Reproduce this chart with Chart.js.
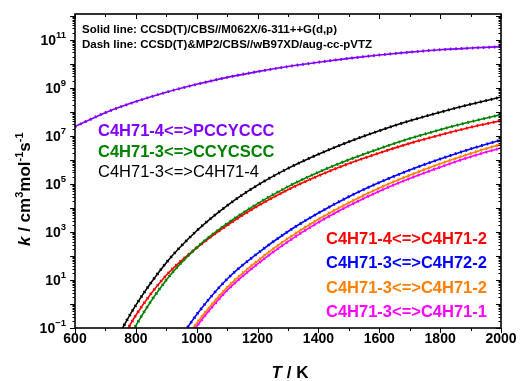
<!DOCTYPE html>
<html><head><meta charset="utf-8">
<script src="https://cdn.jsdelivr.net/npm/chart.js@4.4.1/dist/chart.umd.min.js"></script>
<style>html,body{margin:0;padding:0;background:#fff}canvas{display:block}</style>
</head><body>
<canvas id="c" width="520" height="381"></canvas>
<script>
// Temperatures (K)
const temps = [600,700,800,900,1000,1100,1200,1300,1400,1500,1600,1700,1800,1900,2000];
// log10(k) values (null = outside range)
const logPurple  = [7.39,7.97,8.43,8.82,9.15,9.44,9.68,9.89,10.07,10.23,10.37,10.49,10.59,10.66,10.72];
const logBlack   = [null,-2.30,-0.05,1.72,3.05,4.10,4.95,5.65,6.24,6.76,7.22,7.63,7.99,8.32,8.62];
const logGreen   = [null,-3.40,-0.90,1.00,2.35,3.35,4.18,4.89,5.49,6.01,6.47,6.89,7.26,7.59,7.89];
const logRed     = [null,-2.75,-0.47,1.20,2.34,3.28,4.08,4.76,5.34,5.85,6.29,6.69,7.04,7.36,7.64];
const logBlue    = [null,null,null,-2.31,-0.44,1.04,2.11,3.02,3.79,4.47,5.06,5.58,6.04,6.46,6.83];
const logOrange  = [null,null,null,-2.60,-0.80,0.69,1.80,2.73,3.53,4.22,4.83,5.36,5.84,6.27,6.65];
const logMagenta = [null,null,null,-2.75,-0.93,0.57,1.67,2.60,3.40,4.09,4.70,5.23,5.70,6.13,6.50];

const xTickLabels = ['600','800','1000','1200','1400','1600','1800','2000'];
const yLabelExps = [-1,1,3,5,7,9,11];

const seriesNames = ['C4H71-4<=>PCCYCCC','C4H71-3<=>CCYCSCC','C4H71-3<=>C4H71-4',
  'C4H71-4<=>C4H71-2','C4H71-3<=>C4H72-2','C4H71-3<=>C4H71-2','C4H71-3<=>C4H71-1'];
const seriesLogs = [logPurple,logGreen,logBlack,logRed,logBlue,logOrange,logMagenta];
const seriesColors = ['#8000ff','#008000','#000000','#ff0000','#0000ff','#ff8000','#ff00ff'];

function pts(arr){
  const out=[];
  arr.forEach((v,i)=>{ if(v!==null) out.push({x:temps[i], y:Math.pow(10,v)}); });
  return out;
}

const datasets=[];
seriesLogs.forEach((arr,i)=>{
  datasets.push({label:seriesNames[i], data:pts(arr), borderColor:seriesColors[i],
    borderWidth:1.6, pointRadius:0, cubicInterpolationMode:'monotone', fill:false});
});
seriesLogs.forEach((arr,i)=>{
  datasets.push({label:seriesNames[i]+' (dash)', data:pts(arr), borderColor:seriesColors[i],
    borderWidth:3, borderDash:[1.5,4], pointRadius:0, cubicInterpolationMode:'monotone', fill:false});
});

const FONT = 'Arial, "Liberation Sans", sans-serif';

const decor = {
  id:'decor',
  afterDraw(chart){
    const {ctx, chartArea:a, scales:{x,y}} = chart;
    ctx.save();
    // ticks
    ctx.strokeStyle='#000'; ctx.lineWidth=1;
    for(let t=600;t<=2000;t+=100){
      const px=Math.round(x.getPixelForValue(t))+0.5;
      const len=(t%200===0)?5:3;
      ctx.beginPath();
      ctx.moveTo(px,a.bottom); ctx.lineTo(px,a.bottom+len);
      ctx.moveTo(px,a.top); ctx.lineTo(px,a.top+len);
      ctx.stroke();
    }
    for(let e=-1;e<=12;e++){
      for(let m=1;m<=9;m++){
        const v=m*Math.pow(10,e);
        if(v<y.min*0.999||v>y.max) continue;
        const py=Math.round(y.getPixelForValue(v))+0.5;
        const len=(m===1)?5:2.5;
        ctx.beginPath();
        ctx.moveTo(a.left,py); ctx.lineTo(a.left-len,py);
        ctx.moveTo(a.right,py); ctx.lineTo(a.right-len,py);
        ctx.stroke();
      }
    }
    // frame
    ctx.lineWidth=1.6;
    ctx.strokeRect(a.left,a.top,a.right-a.left,a.bottom-a.top);
    // x tick labels
    ctx.fillStyle='#000';
    ctx.font='bold 14px '+FONT;
    ctx.textAlign='center'; ctx.textBaseline='middle';
    xTickLabels.forEach(l=>{
      ctx.fillText(l, x.getPixelForValue(+l), a.bottom+11);
    });
    // y tick labels with superscripts
    yLabelExps.forEach(e=>{
      const py=y.getPixelForValue(Math.pow(10,e));
      const exp=String(e).replace('-','\u2212');
      ctx.font='bold 9.5px '+FONT;
      const we=ctx.measureText(exp).width;
      ctx.font='bold 14px '+FONT;
      const wb=ctx.measureText('10').width;
      const right=a.left-9;
      ctx.textAlign='left'; ctx.textBaseline='alphabetic';
      ctx.fillText('10', right-we-wb, py+5);
      ctx.font='bold 9.5px '+FONT;
      ctx.fillText(exp, right-we, py-2);
    });
    // x title
    ctx.textBaseline='middle'; ctx.textAlign='left';
    ctx.font='italic bold 17px '+FONT;
    const wT=ctx.measureText('T').width;
    ctx.font='bold 17px '+FONT;
    const wR=ctx.measureText(' / K').width;
    const x0=290-(wT+wR)/2;
    ctx.font='italic bold 17px '+FONT; ctx.fillText('T',x0,373);
    ctx.font='bold 17px '+FONT; ctx.fillText(' / K',x0+wT,373);
    // y title (rotated)
    ctx.save();
    ctx.translate(30,246); ctx.rotate(-Math.PI/2);
    ctx.textBaseline='alphabetic'; ctx.textAlign='left';
    const segs=[['k','italic bold 17px',0],[' / cm','bold 17px',0],['3','bold 11px',-7],
      ['mol','bold 17px',0],['-1','bold 11px',-7],['s','bold 17px',0],['-1','bold 11px',-7]];
    let cx=0;
    segs.forEach(s=>{ ctx.font=s[1]+' '+FONT; ctx.fillText(s[0],cx,s[2]); cx+=ctx.measureText(s[0]).width; });
    ctx.restore();
    // header notes
    ctx.font='bold 11.5px '+FONT; ctx.fillStyle='#000';
    ctx.fillText('Solid line: CCSD(T)/CBS//M062X/6-311++G(d,p)',82,30);
    ctx.fillText('Dash line: CCSD(T)&MP2/CBS//wB97XD/aug-cc-pVTZ',82,45);
    // series labels
    const labelPos=[[98,131],[98,152],[98,172.5],[326,239.5],[326,263.5],[326,288],[326,312]];
    seriesNames.forEach((n,i)=>{
      ctx.font=(i===2?'':'bold ')+'16.5px '+FONT;
      ctx.fillStyle=seriesColors[i];
      ctx.fillText(n,labelPos[i][0],labelPos[i][1]);
    });
    ctx.restore();
  }
};

new Chart(document.getElementById('c'),{
  type:'line',
  data:{datasets},
  options:{
    responsive:false, animation:false, devicePixelRatio:1,
    layout:{padding:{left:75,right:19,top:14,bottom:53}},
    plugins:{legend:{display:false},tooltip:{enabled:false}},
    scales:{
      x:{type:'linear',min:600,max:2000,display:false},
      y:{type:'logarithmic',min:0.1,max:1.2e12,display:false}
    }
  },
  plugins:[decor]
});
</script>
</body></html>
